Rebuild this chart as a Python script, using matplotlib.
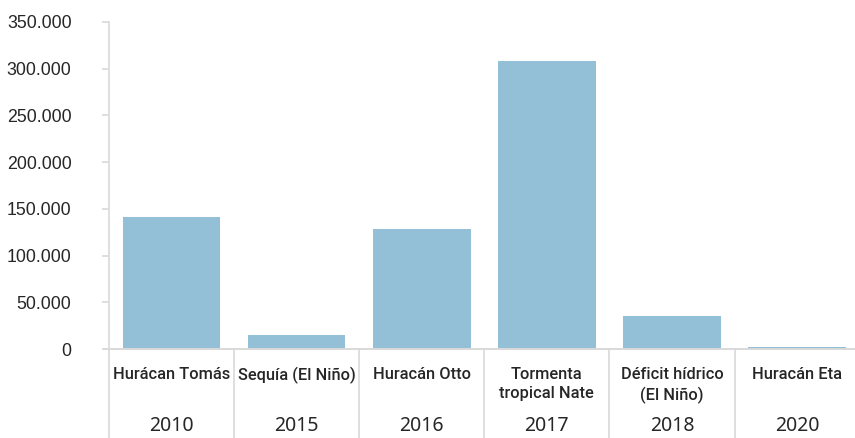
import matplotlib.pyplot as plt
import matplotlib.transforms as mtransforms
from matplotlib.ticker import FuncFormatter

# Affected population by event
eventos = ["Hurácan Tomás", "Sequía (El Niño)", "Huracán Otto",
           "Tormenta\ntropical Nate", "Déficit hídrico\n(El Niño)", "Huracán Eta"]
anios = ["2010", "2015", "2016", "2017", "2018", "2020"]
afectados = [141000, 15000, 128500, 308000, 35000, 2500]

bar_color = "#93C0D7"
grid_gray = "#D9D9D9"
text_color = "#262626"

fig = plt.figure(figsize=(8.55, 4.38), dpi=100)
ax = fig.add_axes([109 / 855, 89 / 438, 750.6 / 855, 327 / 438])

x = list(range(len(eventos)))
ax.bar(x, afectados, width=0.78, color=bar_color, zorder=2)

ax.set_xlim(-0.5, len(eventos) - 0.5)
ax.set_ylim(0, 350000)
ax.set_yticks(range(0, 350001, 50000))
ax.yaxis.set_major_formatter(FuncFormatter(lambda v, p: f"{int(v):,}".replace(",", ".")))

for side in ["top", "right"]:
    ax.spines[side].set_visible(False)
for side in ["left", "bottom"]:
    ax.spines[side].set_color(grid_gray)
    ax.spines[side].set_linewidth(1.2)

ax.tick_params(axis="y", length=5, width=1.2, color=grid_gray, labelsize=12.8,
               labelcolor=text_color, pad=22)
for lbl in ax.get_yticklabels():
    lbl.set_family("Liberation Sans")
ax.set_xticks([])

# multi-level category axis: separators, event names and years
trans = mtransforms.blended_transform_factory(ax.transData, ax.transAxes)
for i in range(len(eventos) + 1):
    ax.plot([i - 0.5, i - 0.5], [0, -0.3], transform=trans, color=grid_gray,
            lw=1.2, clip_on=False)
ax.plot([-0.54, len(eventos) - 0.5], [0, 0], transform=trans, color=grid_gray,
        lw=1.2, clip_on=False)

for i, (ev, an) in enumerate(zip(eventos, anios)):
    ax.text(i, -0.055, ev, transform=trans, ha="center", va="top",
            fontsize=11.8, fontweight="medium", family="Roboto",
            color=text_color, linespacing=1.35)
    ax.text(i, -0.237, an, transform=trans, ha="center", va="center",
            fontsize=14, family="Noto Sans", color=text_color)

fig.savefig("out.png", dpi=100)
